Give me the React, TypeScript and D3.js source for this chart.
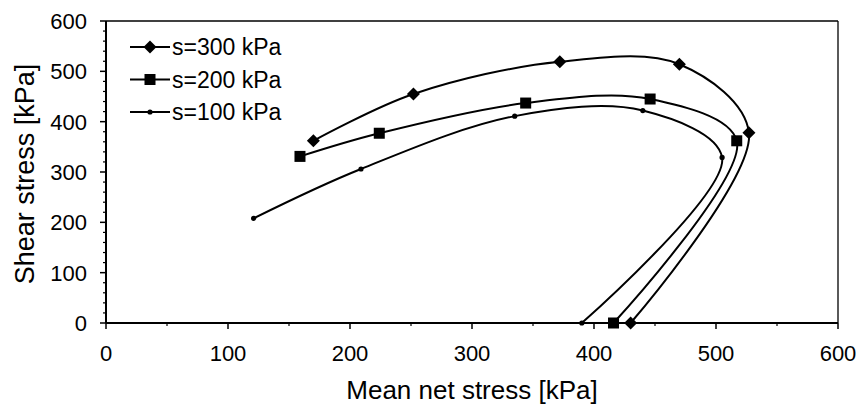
import React from "react";
import * as d3 from "d3";

const xTicks = [0, 100, 200, 300, 400, 500, 600];
const yTicks = [0, 100, 200, 300, 400, 500, 600];
const seriesNames = ["s=300 kPa", "s=200 kPa", "s=100 kPa"];
const markerTypes = ["diamond", "square", "dot"];

const s300P = [430, 527, 470, 372, 252, 170];
const s300Q = [0, 378, 514, 519, 455, 362];
const s200P = [416, 517, 446, 344, 224, 159];
const s200Q = [0, 362, 445, 437, 377, 331];
const s100P = [390, 505, 440, 335, 209, 121];
const s100Q = [0, 329, 422, 411, 306, 208];

const seriesP = [s300P, s200P, s100P];
const seriesQ = [s300Q, s200Q, s100Q];

const W = 859;
const H = 407;
const X0 = 106;
const X1 = 838;
const Y0 = 323;
const Y1 = 21;
const FONT = "'Liberation Sans', Arial, Helvetica, sans-serif";

function Marker({ type, x, y }: { type: string; x: number; y: number }) {
  if (type === "diamond") {
    const r = 6.5;
    return <path d={`M${x},${y - r}L${x + r},${y}L${x},${y + r}L${x - r},${y}Z`} fill="#000" />;
  }
  if (type === "square") {
    const r = 5.5;
    return <rect x={x - r} y={y - r} width={2 * r} height={2 * r} fill="#000" />;
  }
  return <circle cx={x} cy={y} r={2.6} fill="#000" />;
}

export default function App() {
  const x = d3.scaleLinear().domain([0, 600]).range([X0, X1]);
  const y = d3.scaleLinear().domain([0, 600]).range([Y0, Y1]);
  const line = d3
    .line<[number, number]>()
    .x((d) => x(d[0]))
    .y((d) => y(d[1]))
    .curve(d3.curveCatmullRom.alpha(0.5));

  const xMinor = d3.range(50, 600, 100);
  const yMinor = d3.range(0, 601, 20).filter((v) => v % 100 !== 0);

  return (
    <svg
      width={W}
      height={H}
      style={{ position: "absolute", left: 0, top: 0, background: "#fff" }}
      fontFamily={FONT}
    >
      <rect x={0} y={0} width={W} height={H} fill="#fff" />
      {/* frame */}
      <line x1={X0} y1={Y1} x2={X1} y2={Y1} stroke="#000" strokeWidth={1.3} />
      <line x1={X1} y1={Y1} x2={X1} y2={Y0} stroke="#000" strokeWidth={1.3} />
      {/* axes */}
      <line x1={X0} y1={Y1} x2={X0} y2={Y0} stroke="#000" strokeWidth={2} />
      <line x1={X0} y1={Y0} x2={X1} y2={Y0} stroke="#000" strokeWidth={2} />
      {/* y ticks */}
      {yTicks.map((t) => (
        <g key={"yt" + t}>
          <line x1={X0 - 6} x2={X0} y1={y(t)} y2={y(t)} stroke="#000" strokeWidth={1.5} />
          <text x={87} y={y(t)} dy="0.36em" textAnchor="end" fontSize={22}>
            {t}
          </text>
        </g>
      ))}
      {yMinor.map((t) => (
        <line key={"ym" + t} x1={X0 - 3} x2={X0} y1={y(t)} y2={y(t)} stroke="#000" strokeWidth={1.2} />
      ))}
      {/* x ticks */}
      {xTicks.map((t) => (
        <g key={"xt" + t}>
          <line x1={x(t)} x2={x(t)} y1={Y0} y2={Y0 + 6} stroke="#000" strokeWidth={1.5} />
          <text x={x(t)} y={361} textAnchor="middle" fontSize={22}>
            {t}
          </text>
        </g>
      ))}
      {xMinor.map((t) => (
        <line key={"xm" + t} x1={x(t)} x2={x(t)} y1={Y0} y2={Y0 + 3} stroke="#000" strokeWidth={1.2} />
      ))}
      {/* axis titles */}
      <text x={472} y={399} textAnchor="middle" fontSize={26}>
        Mean net stress [kPa]
      </text>
      <text
        transform={`translate(34,174) rotate(-90)`}
        textAnchor="middle"
        fontSize={27}
      >
        Shear stress [kPa]
      </text>
      {/* series */}
      {seriesP.map((ps, i) => {
        const pts: [number, number][] = ps.map((p, j) => [p, seriesQ[i][j]]);
        return (
          <g key={"s" + i}>
            <path d={line(pts) || ""} fill="none" stroke="#000" strokeWidth={2} />
            {pts.map((d, j) => (
              <Marker key={j} type={markerTypes[i]} x={x(d[0])} y={y(d[1])} />
            ))}
          </g>
        );
      })}
      {/* legend */}
      {seriesNames.map((n, i) => {
        const ly = 47 + i * 32.5;
        return (
          <g key={"lg" + i}>
            <line x1={130} x2={170} y1={ly} y2={ly} stroke="#000" strokeWidth={2} />
            <Marker type={markerTypes[i]} x={150} y={ly} />
            <text x={172} y={ly} dy="0.36em" fontSize={23}>
              {n}
            </text>
          </g>
        );
      })}
    </svg>
  );
}
